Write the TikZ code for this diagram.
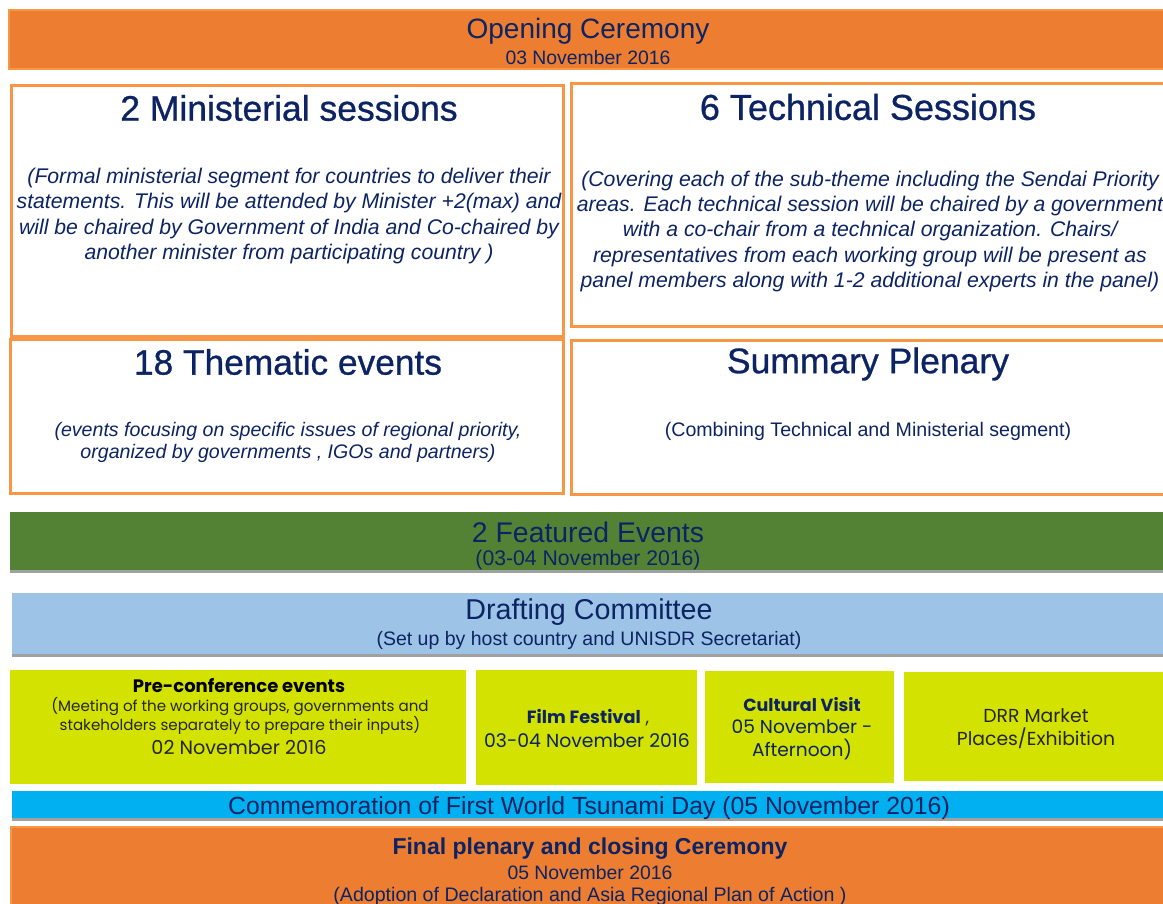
\documentclass[tikz,border=0pt]{standalone}
\usepackage{fontspec}
\setmainfont{Liberation Sans}
\newfontfamily\heavy[FakeBold=0.8]{Liberation Sans}
\newfontfamily\gothic{Poppins}
\definecolor{orfill}{HTML}{ED7D31}
\definecolor{orline}{HTML}{F79646}
\definecolor{grn}{HTML}{548235}
\definecolor{lblue}{HTML}{9DC3E6}
\definecolor{ygrn}{HTML}{D4E200}
\definecolor{cyanbar}{HTML}{00B0F0}
\definecolor{navy}{HTML}{0C2463}
\definecolor{dgray}{HTML}{262626}
\definecolor{shad}{HTML}{A0A0A0}
\tikzset{
  box/.style={rectangle, inner sep=0pt, outer sep=0pt},
  obox/.style={box, draw=orline, line width=3pt, fill=white},
  obar/.style={box, draw=orline, line width=2pt, fill=orfill},
  sbar/.style={box, fill=#1, preaction={fill=shad, transform canvas={yshift=-3pt}}},
  ybox/.style={box, fill=ygrn},
  txt/.style={inner sep=0pt, outer sep=0pt, text=navy, align=center},
  ytxt/.style={inner sep=0pt, outer sep=0pt, text=dgray, align=center, font=\gothic},
}
\newcommand{\fs}[2]{\fontsize{#1}{#2}\selectfont}
\begin{document}
\begin{tikzpicture}[x=1pt,y=-1pt]
\useasboundingbox (0,0) rectangle (1163,904);
\clip (0,0) rectangle (1163,904);
% boxes
\node[obar, minimum width=1166pt, minimum height=59pt] (open) at (592,39.5) {};
\node[obox, minimum width=552pt, minimum height=251pt] (mini) at (287,211.5) {};
\node[obox, minimum width=604pt, minimum height=243pt] (tech) at (873,205.5) {};
\node[obox, minimum width=553pt, minimum height=153pt] (them) at (286.5,416.5) {};
\node[obox, minimum width=604pt, minimum height=153pt] (summ) at (873,417.5) {};
\node[sbar=grn, minimum width=1165pt, minimum height=58pt] (feat) at (592.5,541) {};
\node[sbar=lblue, minimum width=1163pt, minimum height=61pt] (draft) at (593.5,623.5) {};
\node[ybox, minimum width=456pt, minimum height=114pt] (pre) at (238,727) {};
\node[ybox, minimum width=221pt, minimum height=115pt] (film) at (586.5,727.5) {};
\node[ybox, minimum width=189pt, minimum height=112pt] (cult) at (799.5,727) {};
\node[ybox, minimum width=271pt, minimum height=109pt] (drr) at (1039.5,726.5) {};
\node[sbar=cyanbar, minimum width=1163pt, minimum height=27pt] (tsu) at (593.5,804.5) {};
\node[obar, minimum width=1164pt, minimum height=83pt] (final) at (593,868.5) {};
% texts
\node[txt, font=\fs{28}{30}] (openT) at (588,31) {Opening Ceremony};
\node[txt, font=\fs{19.4}{22}] (openD) at (588,58) {03 November 2016};

\node[txt, font=\heavy\fs{35.5}{38}] (miniT) at (289,108) {2 Ministerial sessions};
\node[txt, font=\fs{21.2}{25.3}\itshape] (miniB) at (289,216) {(Formal ministerial segment for countries to deliver their\\statements. This will be attended by Minister +2(max) and\\will be chaired by Government of India and Co-chaired by\\another minister from participating country )};

\node[txt, font=\heavy\fs{36}{38}] (techT) at (868,107) {6 Technical Sessions};
\node[txt, font=\fs{21.2}{25.3}\itshape] (techB) at (870,231.5) {(Covering each of the sub-theme including the Sendai Priority\\areas. Each technical session will be chaired by a government\\with a co-chair from a technical organization. Chairs/\\representatives from each working group will be present as\\panel members along with 1-2 additional experts in the panel)};

\node[txt, font=\heavy\fs{35.3}{38}] (themT) at (288,362) {18 Thematic events};
\node[txt, font=\fs{19.6}{22}\itshape] (themB) at (288,442) {(events focusing on specific issues of regional priority,\\organized by governments , IGOs and partners)};

\node[txt, font=\heavy\fs{35.5}{38}] (summT) at (868,364) {Summary Plenary};
\node[txt, font=\fs{19.6}{22}] (summB) at (868,431) {(Combining Technical and Ministerial segment)};

\node[txt, font=\fs{28.4}{30}] (featT) at (588,532) {2 Featured Events};
\node[txt, font=\fs{21.2}{24}] (featD) at (588,560) {(03-04 November 2016)};

\node[txt, font=\fs{28.7}{30}] (draftT) at (589,612) {Drafting Committee};
\node[txt, font=\fs{19.5}{22}] (draftD) at (589,640) {(Set up by host country and UNISDR Secretariat)};

\node[ytxt, text=black, font=\gothic\bfseries\fs{18}{18}] (preT) at (239,686) {Pre-conference events};
\node[ytxt, font=\gothic\fs{15.1}{18.5}] (preB) at (240,716) {(Meeting of the working groups, governments and\\stakeholders separately to prepare their inputs)};
\node[ytxt, font=\gothic\fs{19.2}{20}] (preD) at (239,747) {02 November 2016};

\node[ytxt, font=\gothic\fs{17.7}{20}] (filmT) at (588,718) {\textcolor{navy}{\bfseries Film Festival} ,};
\node[ytxt, text=navy, font=\gothic\fs{18.8}{20}] (filmD) at (587,741) {03-04 November 2016};

\node[ytxt, text=navy, font=\gothic\bfseries\fs{17.5}{20}] (cultT) at (802,705) {Cultural Visit};
\node[ytxt, text=navy, font=\gothic\fs{18.6}{23}] (cultD) at (802,739.5) {05 November -\\Afternoon)};

\node[ytxt, font=\gothic\fs{18.8}{23}] (drrT) at (1036,728.5) {DRR Market\\Places/Exhibition};

\node[txt, font=\fs{24.8}{27}] (tsuT) at (589,808.5) {Commemoration of First World Tsunami Day (05 November 2016)};

\node[txt, font=\bfseries\fs{23}{25}] (finT) at (590,848.5) {Final plenary and closing Ceremony};
\node[txt, font=\fs{19.4}{22}] (finD) at (590,873) {05 November 2016};
\node[txt, font=\fs{19.6}{22}] (finA) at (590,896) {(Adoption of Declaration and Asia Regional Plan of Action )};
\end{tikzpicture}
\end{document}
